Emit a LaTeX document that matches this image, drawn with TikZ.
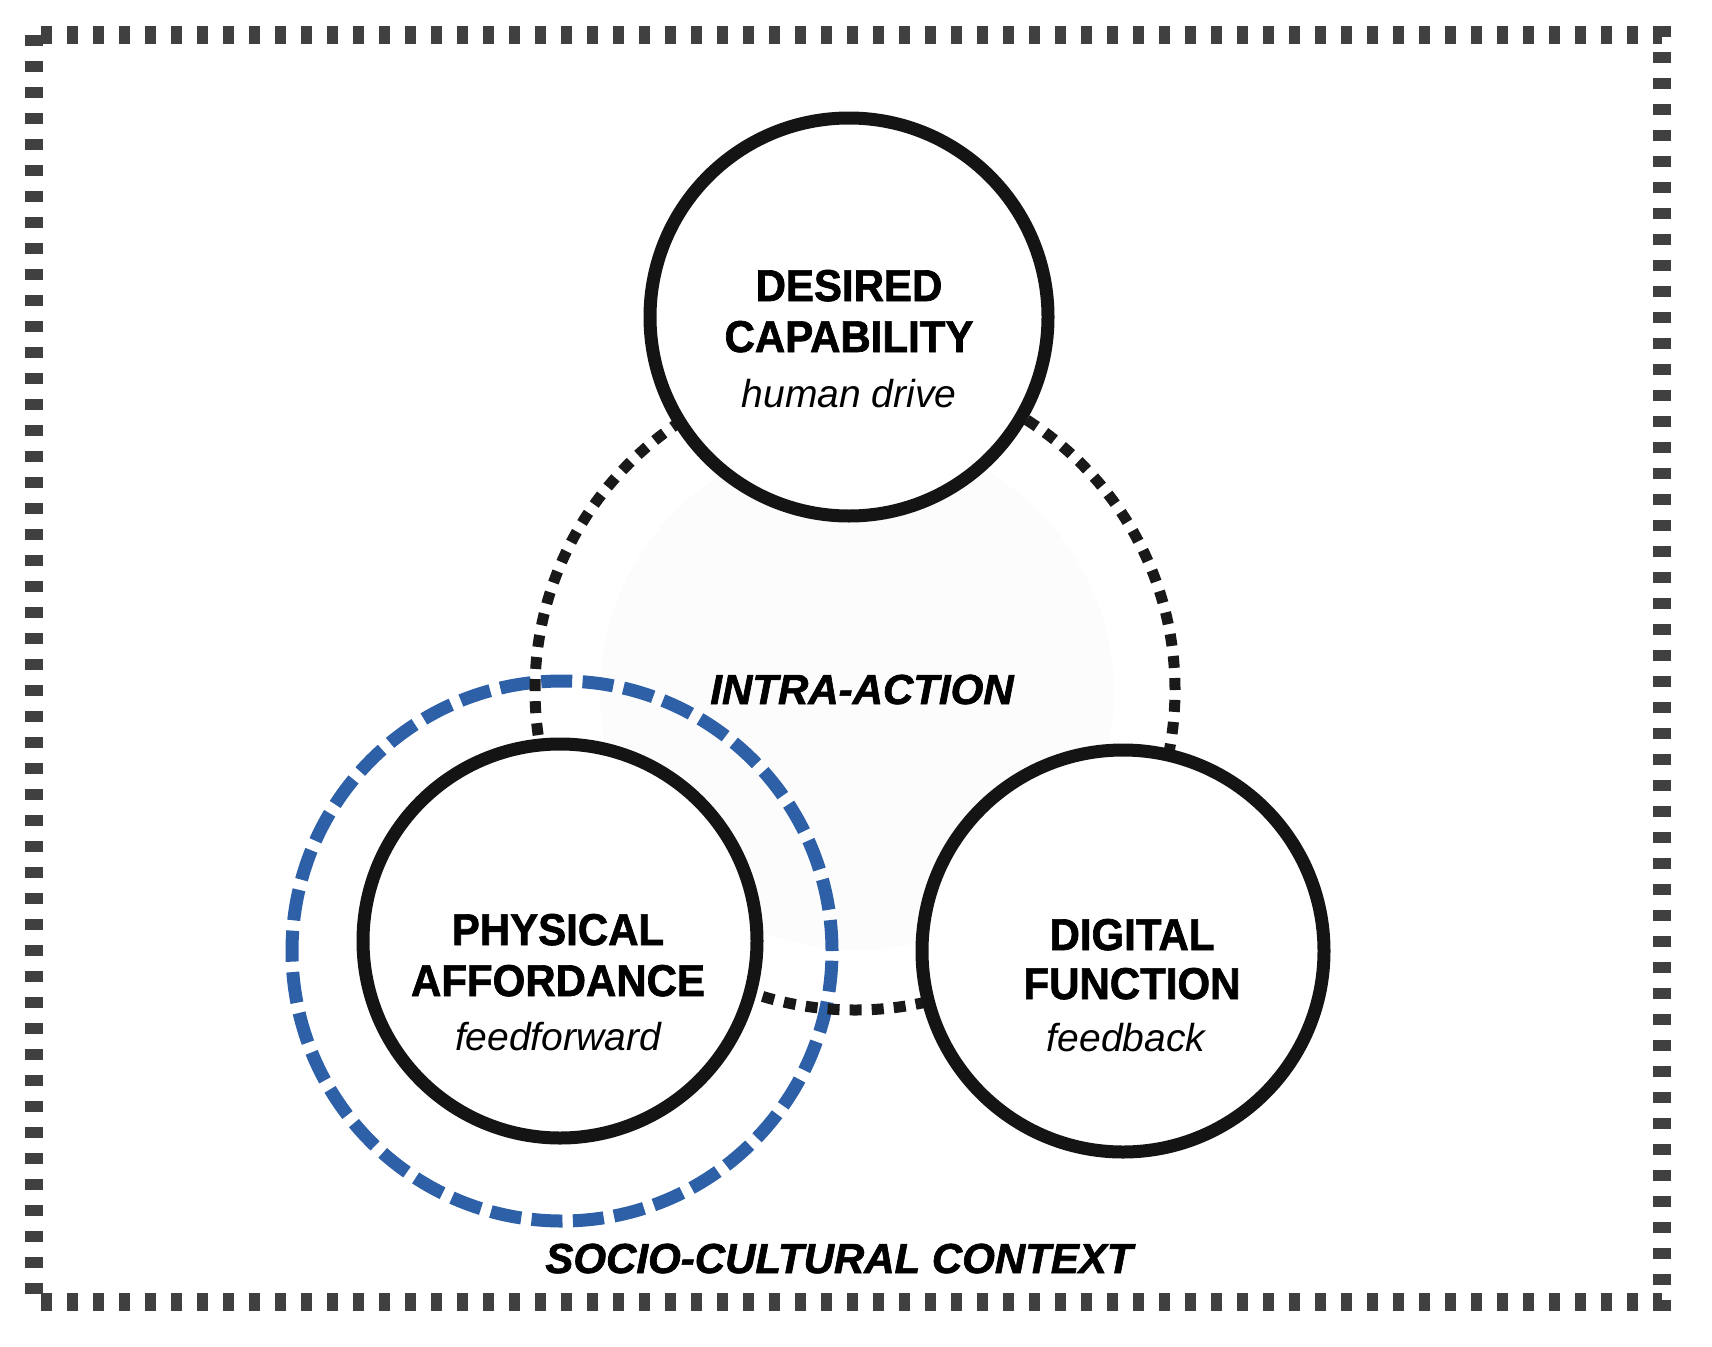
\documentclass[tikz,border=0pt]{standalone}
\usepackage{fontspec}
\setmainfont{Liberation Sans}
\newfontfamily\nero{Liberation Sans}[BoldFeatures={FakeBold=1.6},BoldItalicFeatures={FakeBold=1.6}]
\definecolor{bluanello}{RGB}{46,96,168}
\begin{document}
\begin{tikzpicture}[x=1pt,y=-1pt,
  titolo/.style={font=\fontsize{42}{50}\selectfont\nero\bfseries, anchor=base, inner sep=0pt, yscale=1.06},
  sottotitolo/.style={font=\fontsize{39}{47}\selectfont\itshape, anchor=base, inner sep=0pt},
  etichetta/.style={font=\fontsize{42}{50}\selectfont\nero\bfseries\itshape, anchor=base, inner sep=0pt},
  anello/.style={line width=13pt, draw=black!92, fill=white}]

\useasboundingbox (0,0) rectangle (1712,1346);
%cornice
\draw[line width=18pt, black!75, dash pattern=on 11pt off 15pt] (34,35) rectangle (1662,1302);
%intra-action
\fill[black!1] (857,693) circle (257pt);
\draw[line width=13pt, bluanello, dash pattern=on 31pt off 10.4pt] (562,951) circle (270pt);
\draw[line width=11pt, black!90, dash pattern=on 12pt off 10.1pt] (855,690) circle (320pt);
%cerchi
\draw[anello] (849,317) circle (199pt);
\draw[anello] (560,941) circle (197pt);
\draw[anello] (1123,951) circle (201pt);
%testi
\node[titolo] (desired) at (849,301) {DESIRED};
\node[titolo] (capability) at (849,352) {CAPABILITY};
\node[sottotitolo] (drive) at (849,407) {human drive};

\node[etichetta] (intra) at (862,704) {INTRA-ACTION};

\node[titolo] (physical) at (558,945) {PHYSICAL};
\node[titolo] (affordance) at (558,996) {AFFORDANCE};
\node[sottotitolo] (feedforward) at (558,1050) {feedforward};

\node[titolo] (digital) at (1132,950) {DIGITAL};
\node[titolo] (function) at (1132,999) {FUNCTION};
\node[sottotitolo] (feedback) at (1126,1051) {feedback};

\node[etichetta] (context) at (839,1273) {SOCIO-CULTURAL CONTEXT};

\end{tikzpicture}
\end{document}
